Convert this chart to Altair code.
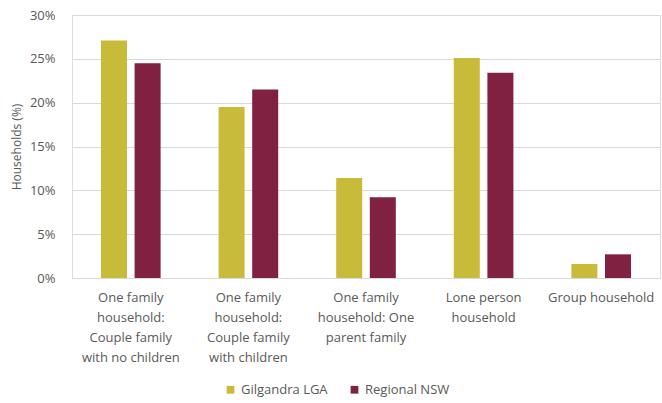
import altair as alt
import pandas as pd

categories = [
    "One family|household:|Couple family|with no children",
    "One family|household:|Couple family|with children",
    "One family|household: One|parent family",
    "Lone person|household",
    "Group household",
]
series = ["Gilgandra LGA", "Regional NSW"]
gilgandra = [27.1, 19.5, 11.4, 25.1, 1.6]
regional = [24.5, 21.5, 9.2, 23.4, 2.7]
colors = ["#C9BB3A", "#812142"]

rows = []
for c, g, r in zip(categories, gilgandra, regional):
    rows.append({"cat": c, "series": series[0], "value": g / 100})
    rows.append({"cat": c, "series": series[1], "value": r / 100})
df = pd.DataFrame(rows)

font = "Open Sans"
grey = "#595959"

chart = alt.Chart(df).mark_bar().encode(
    x=alt.X("cat:N", sort=categories, title=None,
            scale=alt.Scale(paddingInner=0.493, paddingOuter=0.2465),
            axis=alt.Axis(labelExpr="split(datum.label, '|')", labelAngle=0,
                          labelFontSize=13, labelColor=grey, labelFont=font,
                          labelLineHeight=20, labelPadding=19, ticks=False,
                          domainColor="#D9D9D9", labelBaseline="middle")),
    xOffset=alt.XOffset("series:N", sort=series,
                        scale=alt.Scale(paddingInner=0.226, paddingOuter=0)),
    y=alt.Y("value:Q", title="Households (%)",
            scale=alt.Scale(domain=[0, 0.3], nice=False),
            axis=alt.Axis(format=".0%", values=[0, 0.05, 0.1, 0.15, 0.2, 0.25, 0.3],
                          domain=False, ticks=False, labelPadding=17,
                          labelFontSize=13, labelColor=grey, labelFont=font,
                          gridColor="#D9D9D9", titleFont=font, titleFontSize=12,
                          titleFontWeight="normal", titleColor=grey, titlePadding=6)),
    color=alt.Color("series:N", sort=series,
                    scale=alt.Scale(domain=series, range=colors),
                    legend=alt.Legend(title=None, orient="none", direction="horizontal",
                                      legendX=152, legendY=368, symbolType="square",
                                      symbolSize=60, labelFont=font, labelFontSize=13,
                                      labelColor=grey, columnPadding=20,
                                      symbolStrokeWidth=0)),
).properties(
    width=588, height=263,
    autosize=alt.AutoSizeParams(type="none"),
    padding={"left": 72, "top": 15, "right": 2, "bottom": 125},
).configure_view(stroke=None).configure(background="white")

chart.save("out.html", embed_options={"renderer": "svg", "actions": False})
